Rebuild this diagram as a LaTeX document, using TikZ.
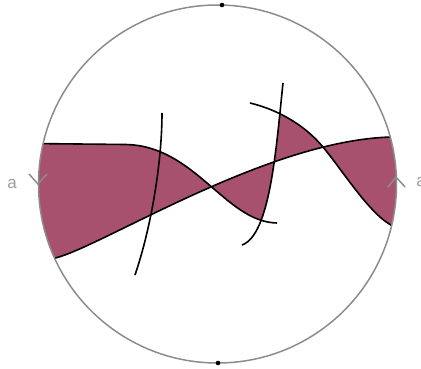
\documentclass[tikz,border=0pt]{standalone}
\usepackage{fontspec}
\setsansfont{Liberation Sans}
\definecolor{lobec}{HTML}{A8516F}
\definecolor{rimc}{HTML}{8C8C8C}

\begin{document}
\begin{tikzpicture}[x=1pt, y=-1pt,
  rim/.style={rimc, line width=1.5pt},
  strand/.style={black, line width=1.6pt},
  tick/.style={rimc, line width=1.5pt},
  lbl/.style={text=rimc!85, font=\sffamily\fontsize{17}{17}\selectfont, inner sep=0pt}]

\useasboundingbox (0,0) rectangle (421,369);

\coordinate (c) at (217.5,184);
% end points of the strands
\coordinate (t0) at (30,143.5);  \coordinate (t1) at (125,144.5); \coordinate (t2) at (277,223);
\coordinate (l0) at (50,259);    \coordinate (l1) at (400,137);
\coordinate (s0) at (250,103);   \coordinate (sm) at (323,147);   \coordinate (s1) at (395,227);
\coordinate (v0) at (162,113);   \coordinate (v1) at (135,275);
\coordinate (w0) at (283,83);    \coordinate (w1) at (242,245);

\begin{scope}
  \clip (c) circle (179);
  % shaded lobes, left of the second cut
  \begin{scope}
    \clip (283,-10) -- (w0) .. controls (276,150) and (270,235) .. (w1) -- (230,380) -- (-10,380) -- (-10,-10) -- cycle;
    \fill[lobec, even odd rule]
      (t0) -- (t1) .. controls (195,145.2) and (225,222) .. (t2) -- (300,223) -- (300,400) -- (30,400) -- cycle
      (20,259) -- (l0) .. controls (90,255) and (270,135) .. (l1) -- (430,137) -- (430,400) -- (20,400) -- cycle;
  \end{scope}
  % shaded lobes, right of the second cut
  \begin{scope}
    \clip (283,-10) -- (w0) .. controls (276,150) and (270,235) .. (w1) -- (230,380) -- (440,380) -- (440,-10) -- cycle;
    \fill[lobec, even odd rule]
      (200,103) -- (s0) .. controls (275,109) and (303,123) .. (sm) .. controls (343,171) and (372,218) .. (s1) -- (430,227) -- (430,400) -- (200,400) -- cycle
      (20,259) -- (l0) .. controls (90,255) and (270,135) .. (l1) -- (430,137) -- (430,400) -- (20,400) -- cycle;
  \end{scope}
  \draw[strand] (t0) -- (t1) .. controls (195,145.2) and (225,222) .. (t2);
  \draw[strand] (l0) .. controls (90,255) and (270,135) .. (l1);
  \draw[strand] (s0) .. controls (275,109) and (303,123) .. (sm) .. controls (343,171) and (372,218) .. (s1);
\end{scope}

\draw[strand] (v0) .. controls (162,160) and (152,225) .. (v1);
\draw[strand] (w0) .. controls (276,150) and (270,235) .. (w1);

\draw[rim] (c) circle (179);
\fill (222,5) circle (2.3);
\fill (218,363) circle (2.3);

\draw[tick] (29,174) -- (38,184) -- (47,174);
\draw[tick] (388,187) -- (396,177) -- (405,187);

\node[lbl] (la) at (12,184) {a};
\node[lbl] (ra) at (421,182) {a};
\end{tikzpicture}
\end{document}
